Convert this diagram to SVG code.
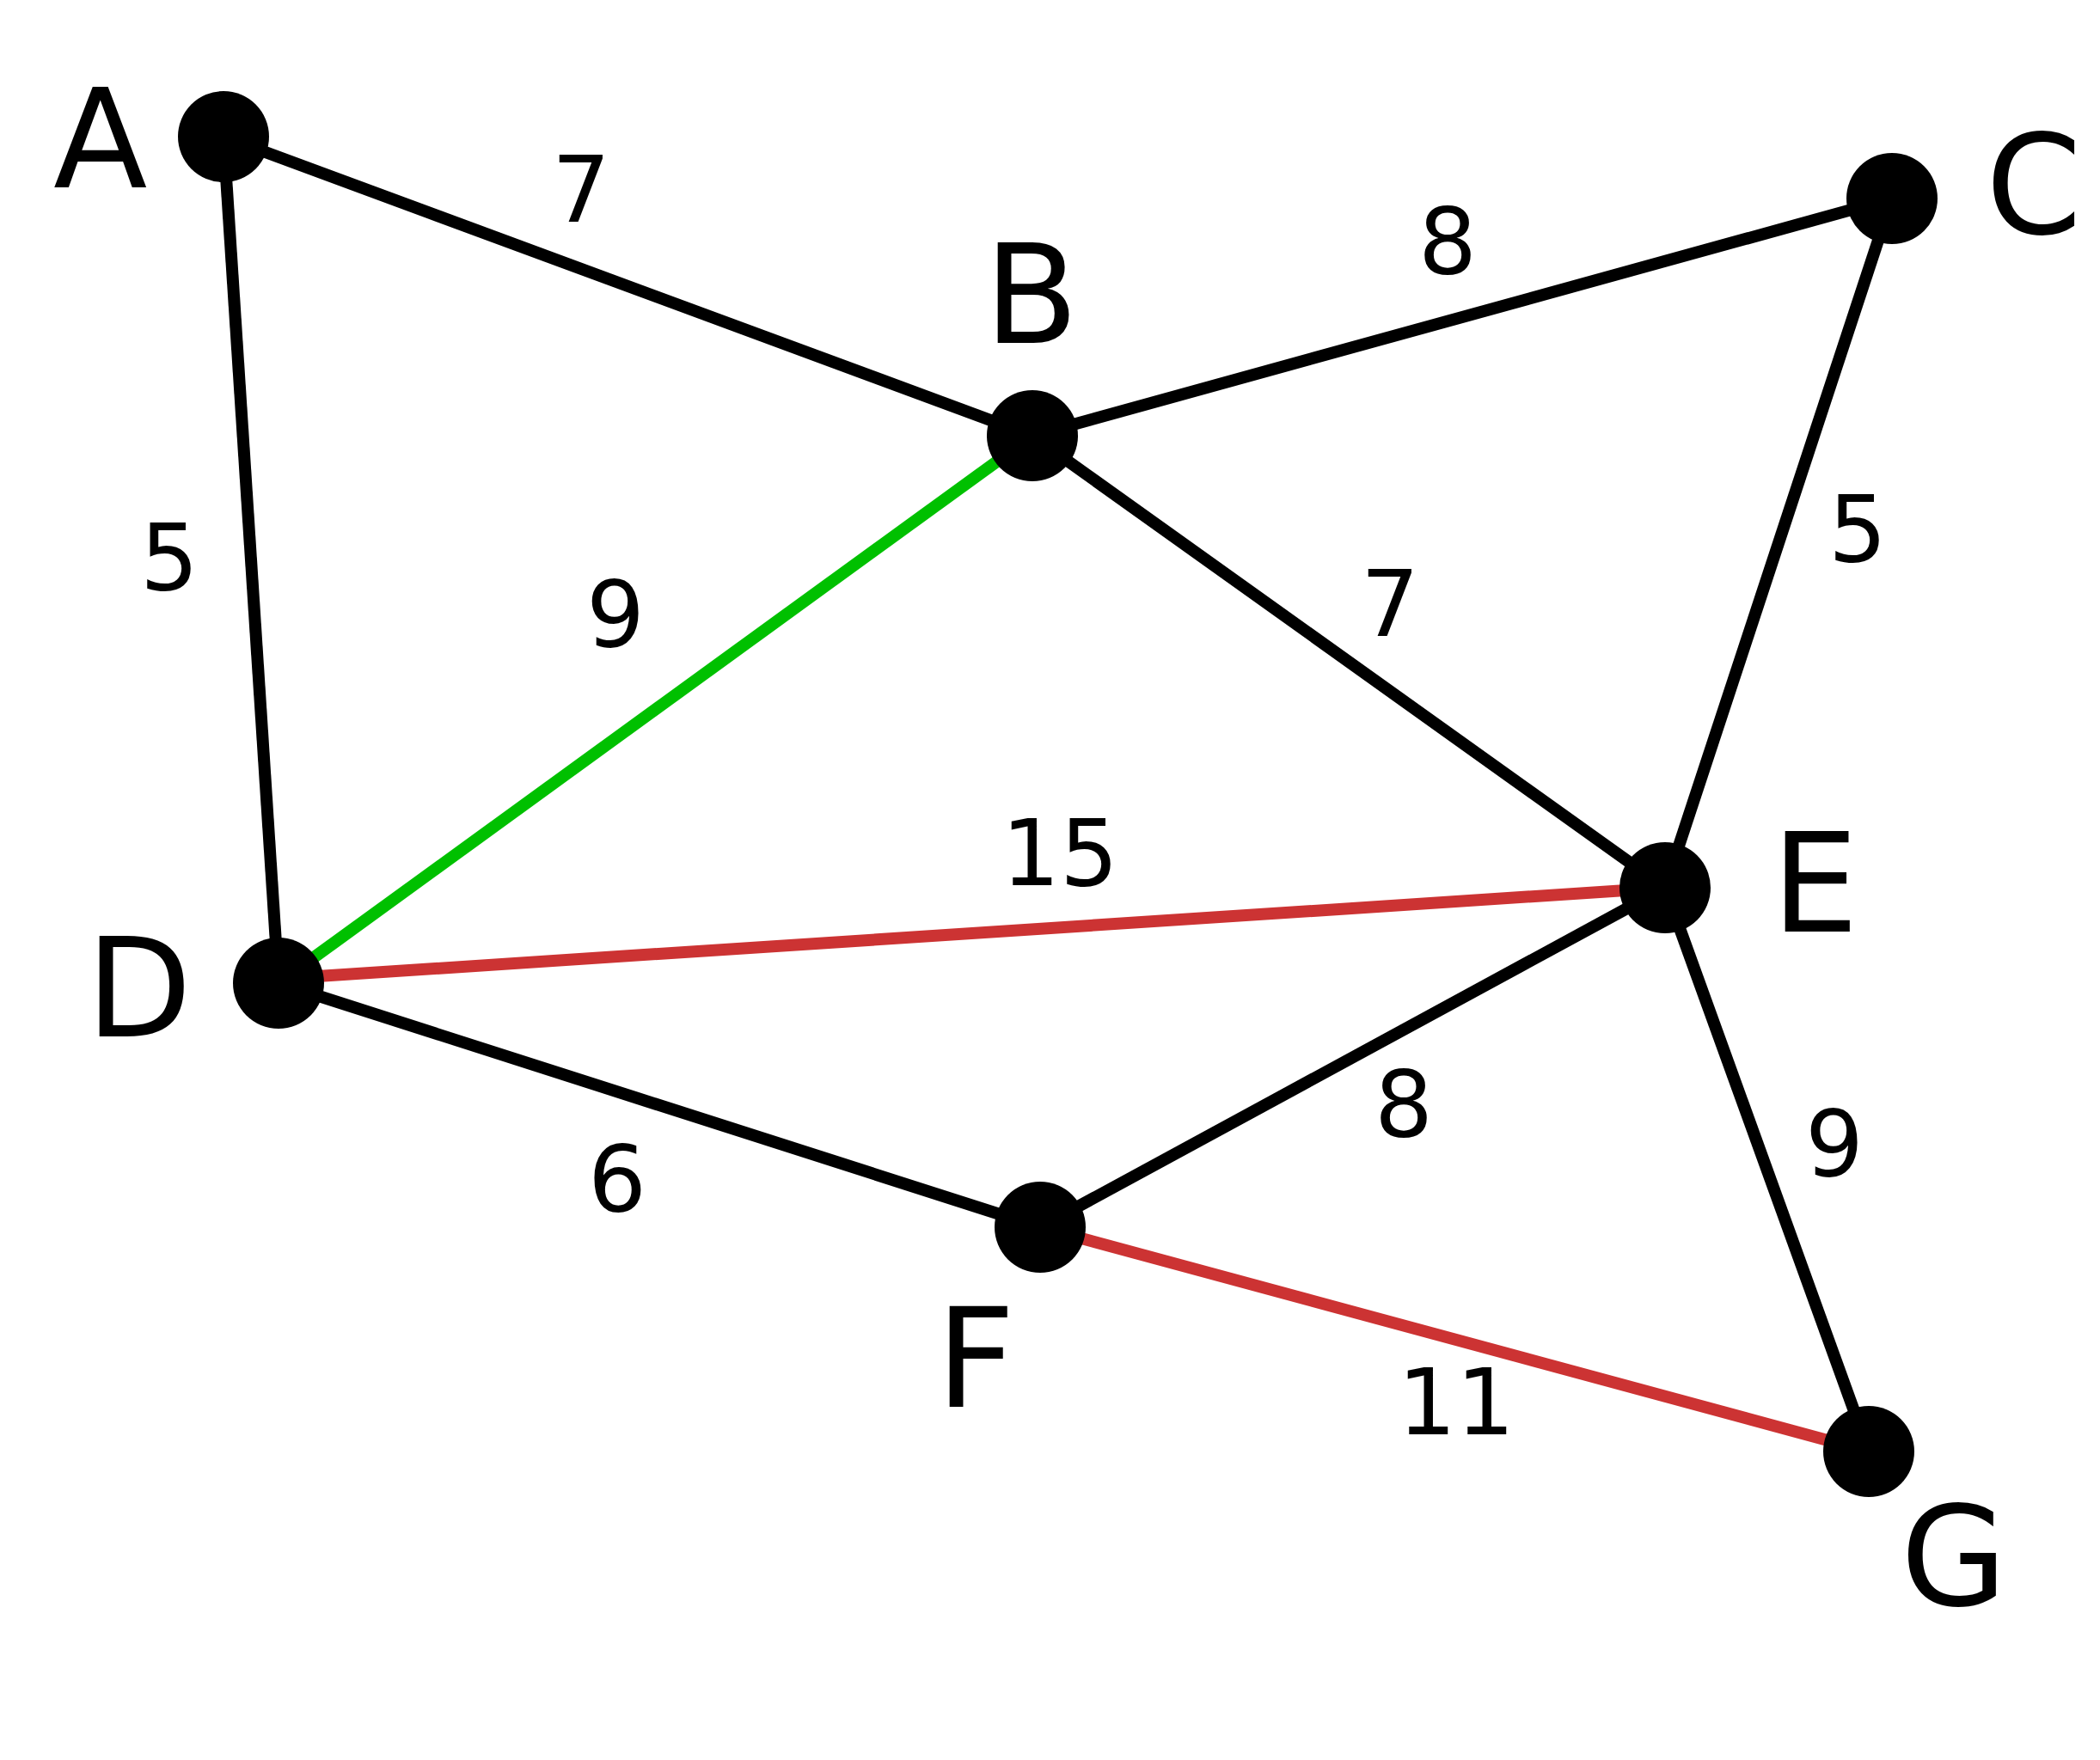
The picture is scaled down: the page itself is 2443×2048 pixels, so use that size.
<svg xmlns="http://www.w3.org/2000/svg" width="2443" height="2048" viewBox="0 0 2443 2048">
<style>
.e{stroke:#000;stroke-width:14;fill:none}
.g{stroke:#00c000}
.r{stroke:#cc3333}
.n{fill:#000}
.lab{font-family:"DejaVu Sans",sans-serif;font-size:160px;fill:#000}
.w{font-family:"DejaVu Sans",sans-serif;font-size:107px;fill:#000;text-anchor:middle}
</style>
<rect width="2443" height="2048" fill="#fff"/>
<g id="edges">
<line class="e" x1="260" y1="159" x2="1201" y2="507"/>
<line class="e" x1="260" y1="159" x2="324" y2="1144"/>
<line class="e" x1="1201" y1="507" x2="2201" y2="231"/>
<line class="e g" x1="1201" y1="507" x2="324" y2="1144"/>
<line class="e" x1="1201" y1="507" x2="1937" y2="1033"/>
<line class="e" x1="2201" y1="231" x2="1937" y2="1033"/>
<line class="e r" x1="324" y1="1139" x2="1937" y2="1033"/>
<line class="e" x1="324" y1="1144" x2="1210" y2="1428"/>
<line class="e" x1="1937" y1="1033" x2="1210" y2="1428"/>
<line class="e" x1="1937" y1="1033" x2="2174" y2="1689"/>
<line class="e r" x1="1210" y1="1428" x2="2174" y2="1689"/>
<text class="w" x="676" y="258">7</text>
<text class="w" x="197" y="686">5</text>
<text class="w" x="716" y="752">9</text>
<text class="w" x="1684" y="318">8</text>
<text class="w" x="2161" y="653">5</text>
<text class="w" x="1617" y="740">7</text>
<text class="w" x="1233" y="1030">15</text>
<text class="w" x="1633" y="1322">8</text>
<text class="w" x="2134" y="1368">9</text>
<text class="w" x="718" y="1409">6</text>
<text class="w" x="1694" y="1669">11</text>
</g>
<g id="A"><circle class="n" cx="260" cy="159" r="53"/><text class="lab" x="62" y="218">A</text></g>
<g id="B"><circle class="n" cx="1201" cy="507" r="53"/><text class="lab" x="1145" y="399">B</text></g>
<g id="C"><circle class="n" cx="2201" cy="231" r="53"/><text class="lab" x="2310" y="272">C</text></g>
<g id="D"><circle class="n" cx="324" cy="1144" r="53"/><text class="lab" x="100" y="1206">D</text></g>
<g id="E"><circle class="n" cx="1937" cy="1033" r="53"/><text class="lab" x="2061" y="1084">E</text></g>
<g id="F"><circle class="n" cx="1210" cy="1428" r="53"/><text class="lab" x="1089" y="1637">F</text></g>
<g id="G"><circle class="n" cx="2174" cy="1689" r="53"/><text class="lab" x="2211" y="1868">G</text></g>
</svg>
